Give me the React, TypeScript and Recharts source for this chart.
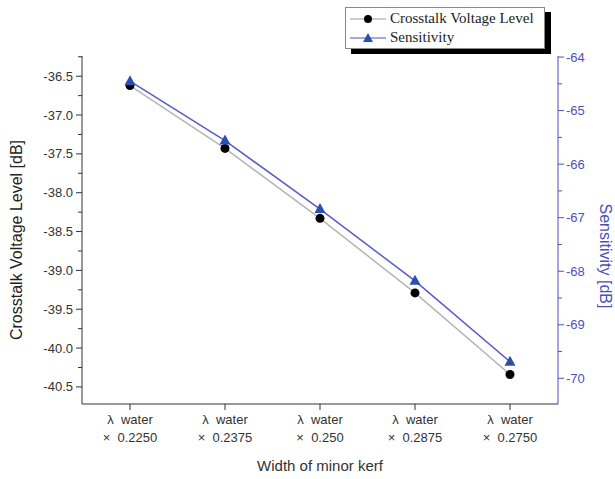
import { LineChart, Line, XAxis, YAxis, Legend } from 'recharts';

const categories = ['0.2250', '0.2375', '0.250', '0.2875', '0.2750'];
const crosstalk = [-36.62, -37.43, -38.33, -39.29, -40.34];
const sensitivity = [-64.45, -65.56, -66.84, -68.18, -69.69];

const leftMajor = [-36.5, -37, -37.5, -38, -38.5, -39, -39.5, -40, -40.5];
const leftMinor = [-36.25, -36.75, -37.25, -37.75, -38.25, -38.75, -39.25, -39.75, -40.25];
const rightMajor = [-64, -65, -66, -67, -68, -69, -70];
const rightMinor = [-64.5, -65.5, -66.5, -67.5, -68.5, -69.5];

const data = categories.map((c, i) => ({
  name: c,
  crosstalk: crosstalk[i],
  sensitivity: sensitivity[i],
}));

const FONT = 'Liberation Sans, Arial, sans-serif';
const BLUE = '#4b50bd';

const LeftTick = ({ x, y, payload }: any) => {
  const major = leftMajor.includes(payload.value);
  return (
    <g>
      <line x1={x - (major ? 6 : 4)} x2={x} y1={y} y2={y} stroke="#333" />
      {major && (
        <text x={x - 9} y={y} dy="0.35em" textAnchor="end" fontSize={13} fill="#333" fontFamily={FONT}>
          {payload.value.toFixed(1)}
        </text>
      )}
    </g>
  );
};

const RightTick = ({ x, y, payload }: any) => {
  const major = rightMajor.includes(payload.value);
  return (
    <g>
      <line x1={x} x2={x + (major ? 6 : 4)} y1={y} y2={y} stroke={BLUE} />
      {major && (
        <text x={x + 8} y={y} dy="0.35em" textAnchor="start" fontSize={13} fill={BLUE} fontFamily={FONT}>
          {payload.value}
        </text>
      )}
    </g>
  );
};

const BottomTick = ({ x, y, payload }: any) => (
  <g>
    <line x1={x} x2={x} y1={y} y2={y + 6} stroke="#333" />
    <text x={x} y={y + 20} textAnchor="middle" fontSize={13} fill="#333" fontFamily={FONT} xmlSpace="preserve">
      {'λ  water'}
    </text>
    <text x={x} y={y + 38} textAnchor="middle" fontSize={13} fill="#333" fontFamily={FONT} xmlSpace="preserve">
      {'×  ' + payload.value}
    </text>
  </g>
);

const Triangle = ({ cx, cy }: any) => (
  <polygon points={`${cx},${cy - 6} ${cx - 5.5},${cy + 4} ${cx + 5.5},${cy + 4}`} fill="#2b4fae" />
);

const BlackDot = ({ cx, cy }: any) => <circle cx={cx} cy={cy} r={4.5} fill="#000" />;

const LegendBox = () => (
  <div
    style={{
      width: 196,
      height: 39,
      border: '1px solid #888',
      background: '#fff',
      boxShadow: '6px 5px 0 #000',
      fontFamily: 'Liberation Serif, Times New Roman, serif',
      fontSize: 15,
      color: '#222',
      padding: '1px 0 0 2px',
      boxSizing: 'content-box',
    }}
  >
    <div style={{ display: 'flex', alignItems: 'center', height: 19 }}>
      <svg width={40} height={14}>
        <line x1={2} x2={38} y1={7} y2={7} stroke="#999" />
        <circle cx={20} cy={7} r={4} fill="#000" />
      </svg>
      <span style={{ marginLeft: 2 }}>Crosstalk Voltage Level</span>
    </div>
    <div style={{ display: 'flex', alignItems: 'center', height: 19 }}>
      <svg width={40} height={14}>
        <line x1={2} x2={38} y1={7} y2={7} stroke={BLUE} />
        <polygon points="20,2 15,11 25,11" fill="#2b4fae" />
      </svg>
      <span style={{ marginLeft: 2 }}>Sensitivity</span>
    </div>
  </div>
);

export default function App() {
  return (
    <div style={{ position: 'absolute', left: 0, top: 0, background: '#fff' }}>
      <LineChart width={615} height={479} data={data} margin={{ top: 56, right: 0, bottom: 0, left: 0 }}>
        <XAxis
          dataKey="name"
          xAxisId="bottom"
          height={75}
          padding={{ left: 48, right: 48 }}
          stroke="#333"
          tickLine={false}
          tickSize={0}
          tickMargin={0}
          tick={<BottomTick />}
          interval={0}
          label={{
            content: ({ viewBox }: any) => (
              <text
                x={viewBox.x + viewBox.width / 2}
                y={viewBox.y + 67}
                textAnchor="middle"
                fontSize={15}
                fill="#333"
                fontFamily={FONT}
              >
                Width of minor kerf
              </text>
            ),
          }}
        />
        <XAxis
          dataKey="name"
          xAxisId="top"
          orientation="top"
          height={0}
          mirror
          padding={{ left: 48, right: 48 }}
          stroke="#888"
          tickSize={6}
          tick={false}
          interval={0}
        />
        <YAxis
          yAxisId="left"
          width={82}
          domain={[-40.72, -36.24]}
          ticks={[...leftMajor, ...leftMinor]}
          interval={0}
          stroke="#333"
          tickLine={false}
          tickSize={0}
          tickMargin={0}
          tick={<LeftTick />}
          label={{
            content: ({ viewBox }: any) => (
              <text
                x={18}
                y={viewBox.y + viewBox.height / 2 + 10}
                transform={`rotate(-90, 18, ${viewBox.y + viewBox.height / 2 + 10})`}
                textAnchor="middle"
                dominantBaseline="middle"
                fontSize={16}
                fill="#222"
                fontFamily={FONT}
              >
                Crosstalk Voltage Level [dB]
              </text>
            ),
          }}
        />
        <YAxis
          yAxisId="right"
          orientation="right"
          width={57}
          domain={[-70.48, -63.98]}
          ticks={[...rightMajor, ...rightMinor]}
          interval={0}
          stroke={BLUE}
          tickLine={false}
          tickSize={0}
          tickMargin={0}
          tick={<RightTick />}
          label={{
            content: ({ viewBox }: any) => (
              <text
                x={604}
                y={viewBox.y + viewBox.height / 2 + 26}
                transform={`rotate(90, 604, ${viewBox.y + viewBox.height / 2 + 26})`}
                textAnchor="middle"
                dominantBaseline="middle"
                fontSize={16}
                fill={BLUE}
                fontFamily={FONT}
              >
                Sensitivity [dB]
              </text>
            ),
          }}
        />
        <Legend
          layout="horizontal"
          verticalAlign="middle"
          align="center"
          wrapperStyle={{ left: 345, top: 7, width: 200, height: 42 }}
          content={() => <LegendBox />}
        />
        <Line
          xAxisId="bottom"
          yAxisId="left"
          dataKey="crosstalk"
          name="Crosstalk Voltage Level"
          stroke="#b5b5b5"
          strokeWidth={1.5}
          dot={<BlackDot />}
          activeDot={false}
          isAnimationActive={false}
        />
        <Line
          xAxisId="bottom"
          yAxisId="right"
          dataKey="sensitivity"
          name="Sensitivity"
          stroke="#5a5ac8"
          strokeWidth={1.5}
          dot={<Triangle />}
          activeDot={false}
          isAnimationActive={false}
        />
      </LineChart>
    </div>
  );
}
